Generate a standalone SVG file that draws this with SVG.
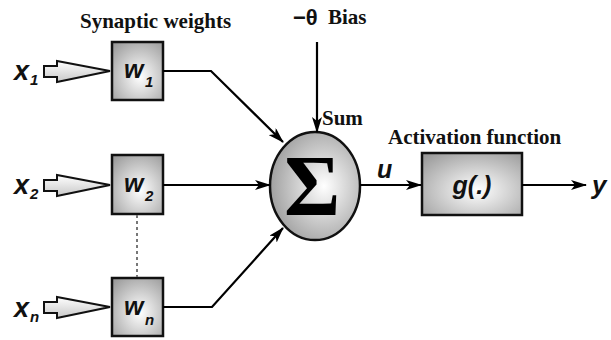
<svg xmlns="http://www.w3.org/2000/svg" width="611" height="340" viewBox="0 0 611 340">
<defs>
<radialGradient id="boxg" cx="0.55" cy="0.6" r="0.75">
<stop offset="0" stop-color="#ffffff"/>
<stop offset="1" stop-color="#9a9a9a"/>
</radialGradient>
<radialGradient id="circg" cx="0.6" cy="0.5" r="0.6">
<stop offset="0" stop-color="#ffffff"/>
<stop offset="1" stop-color="#a0a0a0"/>
</radialGradient>
<linearGradient id="inarr" x1="0" y1="0" x2="0" y2="1">
<stop offset="0" stop-color="#ffffff"/>
<stop offset="1" stop-color="#c8c8c8"/>
</linearGradient>
<marker id="ah" markerWidth="16" markerHeight="10" refX="15" refY="5" orient="auto" markerUnits="userSpaceOnUse">
<path d="M0,0 L16,5 L0,10 L4,5 z" fill="#000"/>
</marker>
</defs>
<style>
.box{fill:url(#boxg);stroke:#111;stroke-width:2.5}
.inp{fill:url(#inarr);stroke:#111;stroke-width:2;stroke-linejoin:miter}
.con{fill:none;stroke:#000;stroke-width:2.2;marker-end:url(#ah)}
.lbl{font-family:"Liberation Serif",serif;font-weight:bold;font-size:21px;fill:#111}
.var{font-family:"Liberation Sans",Arial,sans-serif;font-style:italic;font-weight:bold;fill:#111}
</style>

<text class="lbl" x="80" y="28">Synaptic weights</text>
<text class="lbl" x="388" y="144">Activation function</text>

<g id="x1">
<text class="var" x="14" y="80" font-size="27">x</text>
<text class="var" x="30" y="85" font-size="15">1</text>
<path class="inp" d="M44,66 L57,66 L57,61 L110,71 L57,82 L57,77 L44,77 z"/>
</g>
<g id="x2">
<text class="var" x="14" y="194" font-size="27">x</text>
<text class="var" x="30" y="199" font-size="15">2</text>
<path class="inp" d="M44,180 L57,180 L57,175 L110,185 L57,196 L57,191 L44,191 z"/>
</g>
<g id="xn">
<text class="var" x="14" y="317" font-size="27">x</text>
<text class="var" x="30" y="322" font-size="15">n</text>
<path class="inp" d="M44,302 L57,302 L57,297 L110,307 L57,318 L57,313 L44,313 z"/>
</g>

<g id="w1">
<rect class="box" x="112" y="42" width="51" height="58"/>
<text class="var" x="124" y="78" font-size="25">w</text>
<text class="var" x="145" y="87" font-size="15">1</text>
</g>
<g id="w2">
<rect class="box" x="112" y="155" width="51" height="59"/>
<text class="var" x="124" y="192" font-size="25">w</text>
<text class="var" x="145" y="201" font-size="15">2</text>
</g>
<g id="wn">
<rect class="box" x="112" y="278" width="51" height="58"/>
<text class="var" x="124" y="315" font-size="25">w</text>
<text class="var" x="145" y="325" font-size="15">n</text>
</g>

<g id="sum">
<ellipse cx="315" cy="186" rx="45" ry="54" fill="url(#circg)" stroke="#111" stroke-width="2.5"/>
<text x="312" y="215" text-anchor="middle" font-family="Liberation Serif,serif" font-weight="bold" font-size="86" fill="#000">Σ</text>
<text class="lbl" x="322" y="125">Sum</text>
</g>

<g id="bias">
<text x="293" y="25" font-family="Liberation Sans,sans-serif" font-weight="bold" font-size="22" fill="#111">−θ</text>
<text class="lbl" x="328" y="24">Bias</text>
</g>

<g id="g">
<rect class="box" x="422" y="153" width="100" height="62"/>
<text class="var" x="472" y="194" text-anchor="middle" font-size="25" font-weight="normal">g(.)</text>
</g>

<g id="labels">
<text class="var" x="377" y="178" font-size="25" font-weight="normal">u</text>
<text class="var" x="592" y="194" font-size="26" font-weight="normal">y</text>
</g>

<g id="connectors">
<line x1="137" y1="215" x2="137" y2="277" stroke="#777" stroke-width="2" stroke-dasharray="3,3"/>
<polyline class="con" points="163,71 211,71 283,142"/>
<polyline class="con" points="163,185 270,185"/>
<polyline class="con" points="163,307 212,307 283,228"/>
<polyline class="con" points="317,42 317,132"/>
<polyline class="con" points="360,185 421,185"/>
<polyline class="con" points="522,185 586,185"/>
</g>
</svg>
